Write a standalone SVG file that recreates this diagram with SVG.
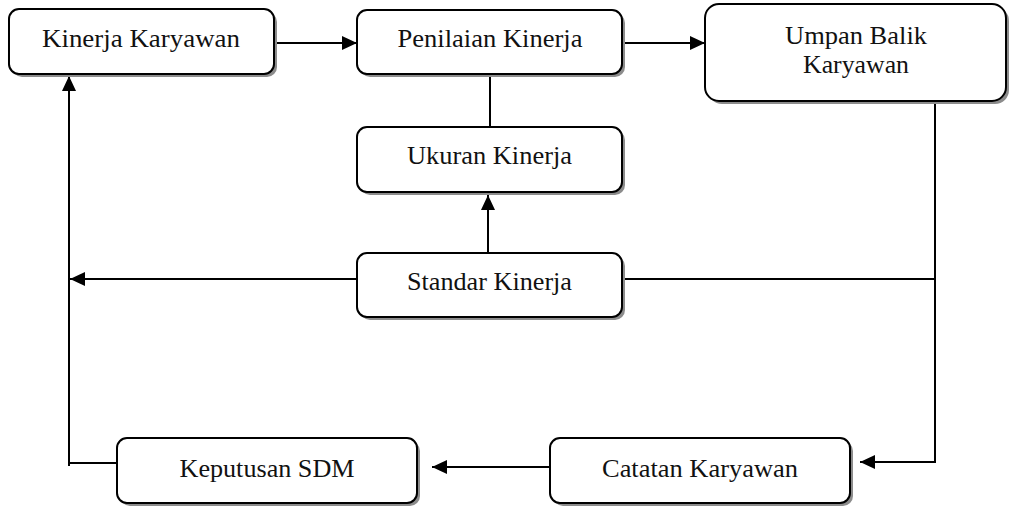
<svg xmlns="http://www.w3.org/2000/svg" width="1009" height="508" viewBox="0 0 1009 508">
<defs>
<marker id="ah" viewBox="0 0 15 14" refX="15" refY="7" markerWidth="15" markerHeight="14" markerUnits="userSpaceOnUse" orient="auto">
<path d="M0,0 L15,7 L0,14 Z" fill="#000"/>
</marker>
</defs>
<style>
.sh{fill:#8c8c8c}
.bx{fill:#fff;stroke:#000;stroke-width:2}
text{font-family:'Liberation Serif','Times New Roman',serif;font-size:25px;fill:#111;text-anchor:middle}
.c{fill:none;stroke:#000;stroke-width:2}
</style>
<rect width="1009" height="508" fill="#fff"/>
<g id="connectors">
<path class="c" d="M274,43 H357" marker-end="url(#ah)"/>
<path class="c" d="M622,43 H705" marker-end="url(#ah)"/>
<path class="c" d="M490,74 V127"/>
<path class="c" d="M488,253 V195" marker-end="url(#ah)"/>
<path class="c" d="M357,279 H70" marker-end="url(#ah)"/>
<path class="c" d="M622,279 H935"/>
<path class="c" d="M935,101 V462 H860" marker-end="url(#ah)"/>
<path class="c" d="M550,467 H432" marker-end="url(#ah)"/>
<path class="c" d="M117,463 H69 V466"/>
<path class="c" d="M69,466 V76" marker-end="url(#ah)"/>
</g>
<g id="kinerja-karyawan">
<rect class="sh" x="12" y="12" width="265" height="65" rx="10"/>
<rect class="bx" x="9" y="9" width="265" height="65" rx="10"/>
<text x="141" y="47" textLength="198" lengthAdjust="spacingAndGlyphs">Kinerja Karyawan</text>
</g>
<g id="penilaian-kinerja">
<rect class="sh" x="360" y="13" width="265" height="64" rx="10"/>
<rect class="bx" x="357" y="10" width="265" height="64" rx="10"/>
<text x="490" y="47" textLength="185" lengthAdjust="spacingAndGlyphs">Penilaian Kinerja</text>
</g>
<g id="umpan-balik-karyawan">
<rect class="sh" x="708" y="7" width="301" height="97" rx="14"/>
<rect class="bx" x="705" y="4" width="301" height="97" rx="14"/>
<text x="856" y="44" textLength="142" lengthAdjust="spacingAndGlyphs">Umpan Balik</text>
<text x="856" y="73" textLength="106" lengthAdjust="spacingAndGlyphs">Karyawan</text>
</g>
<g id="ukuran-kinerja">
<rect class="sh" x="360" y="130" width="265" height="65" rx="10"/>
<rect class="bx" x="357" y="127" width="265" height="65" rx="10"/>
<text x="489.5" y="164" textLength="165" lengthAdjust="spacingAndGlyphs">Ukuran Kinerja</text>
</g>
<g id="standar-kinerja">
<rect class="sh" x="360" y="256" width="265" height="64" rx="10"/>
<rect class="bx" x="357" y="253" width="265" height="64" rx="10"/>
<text x="489.5" y="290" textLength="165" lengthAdjust="spacingAndGlyphs">Standar Kinerja</text>
</g>
<g id="keputusan-sdm">
<rect class="sh" x="120" y="441" width="300" height="65" rx="10"/>
<rect class="bx" x="117" y="438" width="300" height="65" rx="10"/>
<text x="267" y="477" textLength="175" lengthAdjust="spacingAndGlyphs">Keputusan SDM</text>
</g>
<g id="catatan-karyawan">
<rect class="sh" x="553" y="441" width="300" height="65" rx="10"/>
<rect class="bx" x="550" y="438" width="300" height="65" rx="10"/>
<text x="700" y="477" textLength="196" lengthAdjust="spacingAndGlyphs">Catatan Karyawan</text>
</g>
</svg>
